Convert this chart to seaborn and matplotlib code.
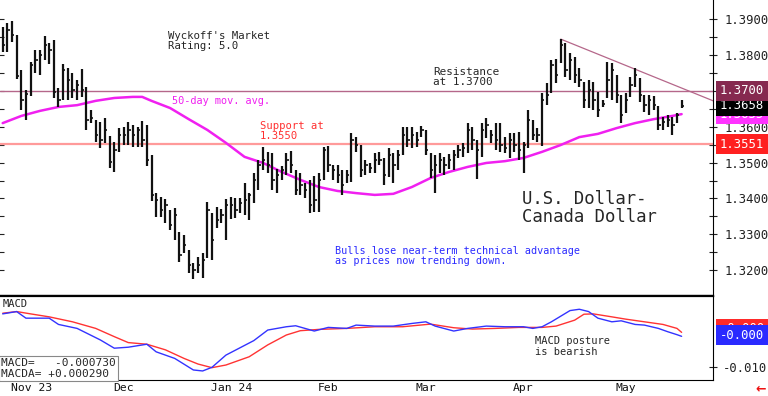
import matplotlib
matplotlib.use("Agg")
import matplotlib.pyplot as plt
import matplotlib.transforms as mtransforms
import seaborn as sns
import pandas as pd

# USD/CAD daily bars, trading days 2023-10-30 .. 2024-05-21
high = [1.3878, 1.3889, 1.3894, 1.3855, 1.3758, 1.3702, 1.3781, 1.3813, 1.3813, 1.3852,
        1.3833, 1.3841, 1.3708, 1.3775, 1.3764, 1.3750, 1.3730, 1.3761, 1.3711, 1.3646,
        1.3618, 1.3613, 1.3624, 1.3574, 1.3558, 1.3596, 1.3599, 1.3613, 1.3605, 1.3599,
        1.3616, 1.3605, 1.3521, 1.3415, 1.3404, 1.3399, 1.3368, 1.3374, 1.3307, 1.3298,
        1.3256, 1.3220, 1.3237, 1.3248, 1.3390, 1.3360, 1.3376, 1.3371, 1.3399, 1.3404,
        1.3401, 1.3401, 1.3443, 1.3415, 1.3471, 1.3507, 1.3544, 1.3530, 1.3527, 1.3482,
        1.3490, 1.3527, 1.3532, 1.3479, 1.3471, 1.3443, 1.3451, 1.3462, 1.3471, 1.3544,
        1.3546, 1.3493, 1.3493, 1.3479, 1.3479, 1.3582, 1.3571, 1.3549, 1.3507, 1.3499,
        1.3527, 1.3530, 1.3513, 1.3541, 1.3527, 1.3535, 1.3599, 1.3599, 1.3599, 1.3585,
        1.3602, 1.3591, 1.3527, 1.3521, 1.3527, 1.3516, 1.3524, 1.3535, 1.3549, 1.3555,
        1.3610, 1.3599, 1.3563, 1.3610, 1.3624, 1.3591, 1.3610, 1.3610, 1.3571, 1.3582,
        1.3582, 1.3585, 1.3558, 1.3646, 1.3618, 1.3596, 1.3694, 1.3722, 1.3786, 1.3789,
        1.3844, 1.3833, 1.3805, 1.3794, 1.3764, 1.3725, 1.3730, 1.3725, 1.3697, 1.3674,
        1.3781, 1.3777, 1.3744, 1.3688, 1.3694, 1.3739, 1.3764, 1.3736, 1.3688, 1.3688,
        1.3685, 1.3658, 1.3627, 1.3632, 1.3627, 1.3638, 1.3674]
low = [1.3808, 1.3808, 1.3836, 1.3733, 1.3646, 1.3618, 1.3685, 1.3750, 1.3744, 1.3786,
       1.3775, 1.3680, 1.3655, 1.3674, 1.3674, 1.3680, 1.3674, 1.3683, 1.3591, 1.3610,
       1.3558, 1.3541, 1.3555, 1.3485, 1.3474, 1.3530, 1.3549, 1.3549, 1.3544, 1.3544,
       1.3544, 1.3490, 1.3393, 1.3348, 1.3348, 1.3332, 1.3312, 1.3284, 1.3223, 1.3248,
       1.3192, 1.3176, 1.3192, 1.3179, 1.3234, 1.3229, 1.3318, 1.3332, 1.3284, 1.3343,
       1.3346, 1.3360, 1.3354, 1.3340, 1.3387, 1.3424, 1.3479, 1.3471, 1.3424, 1.3415,
       1.3451, 1.3465, 1.3471, 1.3410, 1.3410, 1.3401, 1.3360, 1.3362, 1.3362, 1.3451,
       1.3474, 1.3451, 1.3443, 1.3410, 1.3443, 1.3446, 1.3530, 1.3460, 1.3465, 1.3471,
       1.3471, 1.3493, 1.3438, 1.3460, 1.3443, 1.3479, 1.3521, 1.3544, 1.3541, 1.3544,
       1.3571, 1.3521, 1.3457, 1.3415, 1.3471, 1.3465, 1.3482, 1.3479, 1.3513, 1.3516,
       1.3527, 1.3535, 1.3454, 1.3516, 1.3569, 1.3555, 1.3535, 1.3530, 1.3527, 1.3513,
       1.3530, 1.3507, 1.3471, 1.3541, 1.3563, 1.3558, 1.3546, 1.3660, 1.3694, 1.3722,
       1.3777, 1.3739, 1.3730, 1.3722, 1.3711, 1.3652, 1.3652, 1.3646, 1.3627, 1.3655,
       1.3680, 1.3674, 1.3666, 1.3610, 1.3638, 1.3683, 1.3711, 1.3669, 1.3641, 1.3632,
       1.3646, 1.3591, 1.3591, 1.3599, 1.3577, 1.3610, 1.3652]
close = [1.3827, 1.3869, 1.3855, 1.3741, 1.3674, 1.3691, 1.3772, 1.3786, 1.3799, 1.3827,
         1.3813, 1.3697, 1.3674, 1.3758, 1.3730, 1.3702, 1.3716, 1.3702, 1.3618, 1.3624,
         1.3577, 1.3563, 1.3591, 1.3502, 1.3535, 1.3577, 1.3577, 1.3591, 1.3577, 1.3591,
         1.3563, 1.3507, 1.3410, 1.3396, 1.3368, 1.3382, 1.3326, 1.3354, 1.3243, 1.3270,
         1.3215, 1.3201, 1.3215, 1.3229, 1.3368, 1.3284, 1.3340, 1.3354, 1.3382, 1.3382,
         1.3368, 1.3387, 1.3396, 1.3410, 1.3451, 1.3493, 1.3507, 1.3493, 1.3451, 1.3465,
         1.3479, 1.3507, 1.3493, 1.3424, 1.3438, 1.3424, 1.3382, 1.3396, 1.3451, 1.3535,
         1.3493, 1.3479, 1.3465, 1.3438, 1.3465, 1.3563, 1.3549, 1.3479, 1.3493, 1.3485,
         1.3507, 1.3507, 1.3465, 1.3521, 1.3493, 1.3521, 1.3577, 1.3563, 1.3577, 1.3563,
         1.3591, 1.3535, 1.3479, 1.3493, 1.3507, 1.3493, 1.3507, 1.3521, 1.3535, 1.3541,
         1.3591, 1.3563, 1.3535, 1.3591, 1.3605, 1.3577, 1.3563, 1.3549, 1.3541, 1.3563,
         1.3549, 1.3535, 1.3549, 1.3618, 1.3577, 1.3577, 1.3674, 1.3688, 1.3772, 1.3744,
         1.3827, 1.3758, 1.3786, 1.3744, 1.3730, 1.3674, 1.3702, 1.3674, 1.3646, 1.3663,
         1.3730, 1.3758, 1.3688, 1.3632, 1.3674, 1.3716, 1.3744, 1.3688, 1.3660, 1.3674,
         1.3660, 1.3605, 1.3613, 1.3618, 1.3605, 1.3632, 1.3658]

# 50-day moving average, read at selected trading-day numbers
ma_day = [0, 4, 8, 12, 16, 20, 24, 28, 30, 32, 36, 40, 44, 48, 52, 56, 60, 64, 68, 72,
          76, 80, 84, 88, 92, 96, 100, 104, 108, 112, 116, 120, 124, 128, 132, 136, 140,
          144, 146]
ma50 = [1.3610, 1.3630, 1.3644, 1.3655, 1.3660, 1.3672, 1.3680, 1.3683, 1.3683, 1.3672,
        1.3652, 1.3621, 1.3591, 1.3555, 1.3516, 1.3499, 1.3474, 1.3452, 1.3432, 1.3421,
        1.3415, 1.3410, 1.3413, 1.3432, 1.3457, 1.3474, 1.3488, 1.3499, 1.3504, 1.3513,
        1.3530, 1.3549, 1.3571, 1.3580, 1.3596, 1.3610, 1.3621, 1.3630, 1.3635]

# MACD (blue) and its average (red)
macd_day = [0, 3, 5, 10, 12, 16, 21, 24, 27, 31, 33, 37, 41, 43, 45, 48, 54, 57, 61, 63,
            67, 70, 74, 76, 80, 84, 88, 91, 93, 97, 100, 104, 108, 112, 114, 116, 118, 122,
            124, 126, 128, 131, 133, 136, 138, 141, 143, 145, 146]
macd = [0.0061, 0.0068, 0.0048, 0.0048, 0.0029, 0.0017, -0.0018, -0.0043, -0.0040, -0.0031,
        -0.0054, -0.0074, -0.0109, -0.0112, -0.0101, -0.0064, -0.0020, 0.0012, 0.0022, 0.0025,
        0.0009, 0.0020, 0.0017, 0.0027, 0.0024, 0.0024, 0.0032, 0.0037, 0.0024, 0.0009,
        0.0017, 0.0024, 0.0022, 0.0022, 0.0017, 0.0022, 0.0037, 0.0071, 0.0075, 0.0068,
        0.0048, 0.0037, 0.0040, 0.0029, 0.0027, 0.0017, 0.0007, -0.0002, -0.0007]
sig_day = [0, 3, 6, 10, 15, 20, 24, 27, 31, 35, 39, 42, 45, 48, 53, 57, 61, 64, 68, 74,
           80, 86, 92, 97, 101, 106, 111, 116, 119, 123, 125, 127, 131, 134, 138, 142, 145, 146]
macda = [0.0063, 0.0068, 0.0061, 0.0052, 0.0037, 0.0017, -0.0008, -0.0026, -0.0031, -0.0048,
         -0.0074, -0.0091, -0.0102, -0.0094, -0.0069, -0.0033, -0.0003, 0.0010, 0.0014, 0.0017,
         0.0022, 0.0022, 0.0030, 0.0019, 0.0015, 0.0017, 0.0020, 0.0020, 0.0024, 0.0042,
         0.0060, 0.0061, 0.0052, 0.0045, 0.0037, 0.0029, 0.0017, 0.0005]

trend_day = [120, 152.8]
trend_px = [1.3844, 1.3672]
resistance = 1.3700
support = 1.3551
last_close = 1.3658
last_ma = 1.3635

month_labels = ["Nov 23", "Dec", "Jan 24", "Feb", "Mar", "Apr", "May"]
price_ticks = [1.32, 1.33, 1.34, 1.35, 1.36, 1.37, 1.38, 1.39]

sns.set_style("white")
plt.rcParams['font.family'] = ['DejaVu Sans Mono', 'DejaVu Sans']

days = pd.bdate_range("2023-10-30", "2024-05-21")
bars = pd.DataFrame({"date": days, "high": high, "low": low, "close": close})
bars["n"] = range(len(bars))
month_start = bars.groupby(bars["date"].dt.to_period("M"))["n"].first().values[1:]

W, H = 768, 396
fig = plt.figure(figsize=(W / 100, H / 100), dpi=100)
ax = fig.add_axes([0, 100 / H, 713 / W, 296 / H])
ax2 = fig.add_axes([0, 16 / H, 713 / W, 84 / H], sharex=ax)

# price panel
ax.vlines(bars["n"], bars["low"], bars["high"], color="#111111", lw=1.6, zorder=3)
ax.hlines(bars["close"], bars["n"], bars["n"] + 0.5, color="#111111", lw=1.2, zorder=3)
sns.lineplot(x=ma_day, y=ma50, ax=ax, color="#f020f0", lw=1.8, zorder=2)
ax.axhline(resistance, color="#b5678a", lw=1.0, zorder=1)
ax.axhline(support, color="#ff9a9a", lw=1.6, zorder=1)
ax.plot(trend_day, trend_px, color="#b5678a", lw=0.9, zorder=1)

ax.set_xlim(-0.58, 152.75)
ax.set_ylim(1.31284, 1.39529)
ax.set_yticks(price_ticks)
ax.set_yticks([t + 0.005 for t in price_ticks[:-1]], minor=True)
# the 1.3700 level is shown by its own tag instead
ax.set_yticklabels(["" if abs(t - resistance) < 1e-9 else f"{t:.4f}" for t in price_ticks])
ax.yaxis.tick_right()
ax.tick_params(axis="y", which="both", direction="inout", length=6, width=0.8,
               left=True, right=True, labelleft=False, labelright=True,
               labelsize=8.8, pad=5, colors="#222222")
ax.tick_params(axis="x", which="both", bottom=False, labelbottom=False)
ax.set_xlabel("")
ax.set_ylabel("")
for side in ["top", "left"]:
    ax.spines[side].set_visible(False)
ax.spines["right"].set_color("black")
ax.spines["bottom"].set_color("black")
ax.spines["bottom"].set_linewidth(1.6)

right_tag = mtransforms.blended_transform_factory(ax.transAxes, ax.transData)
for y, txt, fc in [(last_ma, "1.3635", "#ff33ff"), (last_close, "1.3658", "black"),
                   (resistance, "1.3700", "#86294f"), (support, "1.3551", "#ff2020")]:
    ax.text(1.0098, y, txt, transform=right_tag, ha="left", va="center", color="white",
            fontsize=8.8, clip_on=False, zorder=5,
            bbox=dict(boxstyle="square,pad=0.3", fc=fc, ec="none"))

# MACD panel
sns.lineplot(x=sig_day, y=macda, ax=ax2, color="#ff3333", lw=1.0)
sns.lineplot(x=macd_day, y=macd, ax=ax2, color="#3333ff", lw=1.0)
ax2.set_ylim(-0.01394, 0.01152)
ax2.set_yticks([-0.01])
ax2.set_yticklabels(["-0.010"])
ax2.yaxis.tick_right()
ax2.tick_params(axis="y", direction="inout", length=6, width=0.8, left=True, right=True,
                labelleft=False, labelright=True, labelsize=8.8, pad=4, colors="#222222")
ax2.set_xticks(month_start - 0.7)
ax2.set_xticklabels([])
ax2.tick_params(axis="x", direction="out", length=11.5, width=1.0, color="black")
ax2.set_xlabel("")
ax2.set_ylabel("")
ax2.spines["left"].set_visible(False)
for side in ["top", "right", "bottom"]:
    ax2.spines[side].set_color("black")
ax2.spines["top"].set_linewidth(1.6)

macd_tag = mtransforms.blended_transform_factory(ax2.transAxes, ax2.transData)
ax2.text(1.0098, 0.0016, " 0.000", transform=macd_tag, ha="left", va="center", color="white",
         fontsize=8.8, clip_on=False, bbox=dict(boxstyle="square,pad=0.3", fc="#ff2a2a", ec="none"))
ax2.text(1.0098, -0.0004, "-0.000", transform=macd_tag, ha="left", va="center", color="white",
         fontsize=8.8, clip_on=False, bbox=dict(boxstyle="square,pad=0.3", fc="#2a2aff", ec="none"))

month_tf = mtransforms.blended_transform_factory(ax2.transData, ax2.transAxes)
for pos, lab in zip(month_start - 0.7, month_labels):
    ax2.text(pos + 0.45, -0.1, lab, transform=month_tf, ha="left", va="center",
             fontsize=8.2, color="#111111", clip_on=False)

ax2.text(0.003, 0.97, "MACD", transform=ax2.transAxes, ha="left", va="top", fontsize=7.5)
ax2.text(535 / 713, 0.52, "MACD posture\nis bearish", transform=ax2.transAxes,
         ha="left", va="top", fontsize=7.5, linespacing=1.05)
ax2.text(0.002, 0.015, "MACD=   -0.000730\nMACDA= +0.000290", transform=ax2.transAxes,
         ha="left", va="bottom", fontsize=8, linespacing=1.1,
         bbox=dict(boxstyle="square,pad=0.2", fc="white", ec="#888888", lw=0.8))

# annotations on the price panel
fig.text(168 / W, 1 - 31 / H, "Wyckoff's Market\nRating: 5.0", ha="left", va="top",
         fontsize=7.7, linespacing=1.0)
fig.text(172 / W, 1 - 101 / H, "50-day mov. avg.", ha="left", va="center",
         fontsize=7.4, color="#f020f0")
fig.text(433 / W, 1 - 67 / H, "Resistance\nat 1.3700", ha="left", va="top",
         fontsize=7.9, linespacing=1.0)
fig.text(260 / W, 1 - 121 / H, "Support at\n1.3550", ha="left", va="top",
         fontsize=7.6, linespacing=1.0, color="#ff3030")
fig.text(522 / W, 1 - 190 / H, "U.S. Dollar-\nCanada Dollar", ha="left", va="top",
         fontsize=12.4, linespacing=1.0)
fig.text(335 / W, 1 - 246 / H,
         "Bulls lose near-term technical advantage\nas prices now trending down.",
         ha="left", va="top", fontsize=7.3, linespacing=1.0, color="#2b2bff")
fig.text(761 / W, 1 - 389 / H, "\u2190", ha="center", va="center", fontsize=9,
         color="#ee1111", fontweight="bold", family="DejaVu Sans")

fig.savefig("out.png", dpi=100)
